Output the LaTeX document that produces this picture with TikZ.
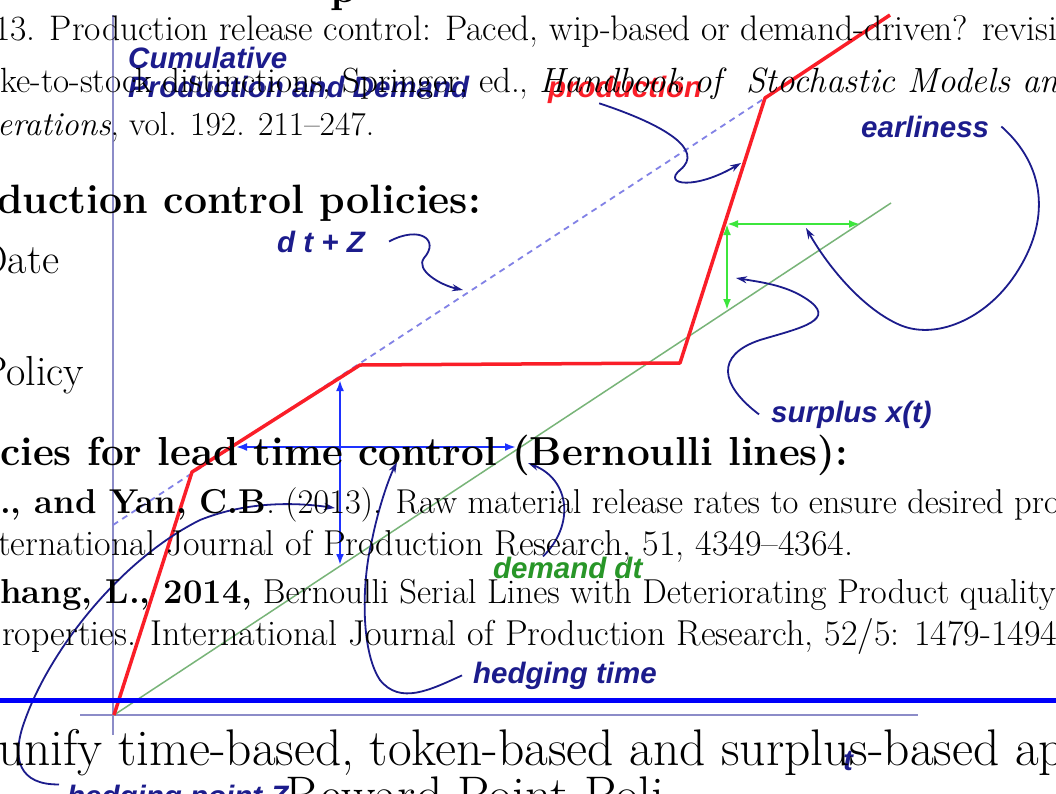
\documentclass[tikz,border=0pt]{standalone}
\usepackage{fontspec}
\usetikzlibrary{arrows.meta}
\newfontfamily\lblfont{Liberation Sans}
\definecolor{navy}{RGB}{28,28,140}
\definecolor{axisblue}{RGB}{140,140,200}
\definecolor{prodred}{RGB}{250,30,40}
\definecolor{demgreen}{RGB}{120,180,120}
\definecolor{surpgreen}{RGB}{60,230,60}
\definecolor{hedgeblue}{RGB}{30,50,255}
\definecolor{dashblue}{RGB}{130,130,230}
\definecolor{lblgreen}{RGB}{40,150,40}
\definecolor{rulebl}{RGB}{0,0,250}
\begin{document}
\begin{tikzpicture}[x=1pt,y=-1pt,
	lbl/.style={font=\lblfont\bfseries\itshape\fontsize{29.5}{29}\selectfont, text=navy, inner sep=0pt, anchor=base west},
	txt/.style={font=\fontsize{35}{40}\selectfont, inner sep=0pt, anchor=base west},
	big/.style={font=\fontsize{42}{50}\selectfont, inner sep=0pt, anchor=base west},
	note/.style={navy, line width=1.8pt, -{Stealth[length=11pt,width=7pt]}},
	hedge/.style={hedgeblue, line width=2.8pt, {Latex[length=11pt,width=8pt]}-{Latex[length=11pt,width=8pt]}},
	surp/.style={surpgreen, line width=2.5pt, {Latex[length=11pt,width=8pt]}-{Latex[length=11pt,width=8pt]}}]
	\useasboundingbox (0,0) rectangle (1056,793);
	\clip (0,0) rectangle (1056,793);
	\fill[white] (0,0) rectangle (1056,793);

	% axes
	\coordinate (O) at (114,715);
	\draw [axisblue, line width=2pt] (113,15) -- (113,735);
	\draw [axisblue, line width=2pt] (80,715) -- (918,715);

	% demand, demand plus Z, cumulative production
	\draw [demgreen, line width=1.5pt] (O) -- (891,203);
	\draw [dashblue, line width=1.8pt, dash pattern=on 6pt off 5pt] (113,525) -- (765,98);
	\draw [prodred, line width=3.5pt, line join=round]
		(O) -- (192,472) -- (360,365) -- (680,363) -- (765,98) -- (890,15);

	% hedging and surplus
	\draw [hedge] (236,447) -- (516,447);
	\draw [hedge] (340,380) -- (340,565);
	\draw [surp] (727,224) -- (860,224);
	\draw [surp] (727,224) -- (727,310);

	% labels
	\node [lbl, align=left, anchor=north west] (cumlbl) at (128,47) {Cumulative\\Production and Demand};
	\node [lbl, text=prodred] (prodlbl) at (548,97) {production};
	\node [lbl] (dzlbl) at (277,252) {d t + Z};
	\node [lbl] (earlbl) at (861,137) {earliness};
	\node [lbl] (surlbl) at (771,422) {surplus x(t)};
	\node [lbl, text=lblgreen] (demlbl) at (493,578) {demand dt};
	\node [lbl] (htlbl) at (473,683) {hedging time};
	\node [lbl] (hplbl) at (67,806) {hedging point Z};
	\node [lbl] (tlbl) at (843,770) {t};

	% pointers
	\draw [note] ([xshift=-26pt]prodlbl.south) .. controls (665,125) and (705,150) .. (680,170)
		.. controls (662,185) and (695,190) .. (741,163);
	\draw [note] ([xshift=24pt]dzlbl.east) .. controls (420,225) and (440,240) .. (424,258)
		.. controls (415,270) and (440,285) .. (463,290);
	\draw [note] ([xshift=12pt]earlbl.east) .. controls (1045,165) and (1052,220) .. (1015,275)
		.. controls (985,320) and (935,340) .. (900,325)
		.. controls (865,310) and (830,270) .. (806,228);
	\draw [note] ([xshift=-12pt]surlbl.west) .. controls (720,385) and (715,355) .. (760,340)
		.. controls (800,328) and (840,320) .. (805,298)
		.. controls (785,285) and (760,282) .. (736,278);
	\draw [note] ([xshift=50pt]demlbl.north west) .. controls (575,525) and (570,480) .. (528,463);
	\draw [note] ([xshift=-11pt]htlbl.west) .. controls (430,690) and (400,705) .. (380,680)
		.. controls (360,650) and (362,580) .. (372,540)
		.. controls (378,510) and (388,480) .. (397,462);
	\draw [note] ([xshift=-8pt]hplbl.north west) .. controls (20,785) and (10,760) .. (25,720)
		.. controls (50,650) and (120,560) .. (200,520)
		.. controls (250,500) and (300,503) .. (335,508);

	% slide text
	\node [big, font=\bfseries\fontsize{42}{50}\selectfont] (ttl) at (330,2) {p};
	\node [txt, font=\fontsize{35.5}{40}\selectfont] (ln1) at (-6,40) {13. Production release control: Paced, wip-based or demand-driven? revisi};
	\node [txt] (ln2) at (0,92) {ke-to-stock distinctions, Springer, ed., \textit{Handbook of\ \ Stochastic Models and An}};
	\node [txt, font=\fontsize{33.5}{40}\selectfont] (ln3) at (-3,135) {\textit{erations}, vol. 192. 211--247.};
	\node [big, font=\bfseries\fontsize{41}{48}\selectfont] (hd1) at (-3,213) {duction control policies:};
	\node [big] (date) at (-22,273) {Date};
	\node [big] (policy) at (-19,385) {Policy};
	\node [big, font=\bfseries\fontsize{40.5}{46}\selectfont] (hd2) at (0,465) {cies for lead time control (Bernoulli lines):};
	\node [txt, font=\fontsize{34.5}{40}\selectfont] (rf1) at (0,513) {\textbf{., and Yan, C.B}. (2013). Raw material release rates to ensure desired pro};
	\node [txt, font=\fontsize{36}{40}\selectfont] (rf2) at (-2,555) {ternational Journal of Production Research, 51, 4349--4364.};
	\node [txt, font=\fontsize{34.6}{40}\selectfont] (rf3) at (0,603) {\textbf{hang, L., 2014,} Bernoulli Serial Lines with Deteriorating Product quality:};
	\node [txt, font=\fontsize{36}{40}\selectfont] (rf4) at (2,645) {roperties. International Journal of Production Research, 52/5: 1479-1494};
	\node [big, font=\fontsize{51.5}{60}\selectfont] (unify) at (-2,765) {unify time-based, token-based and surplus-based ap};
	\node [big, font=\fontsize{51.5}{60}\selectfont] (rwd) at (285,812) {Reward Point Poli};

	\draw [rulebl, line width=5pt] (0,700) -- (1056,700);
\end{tikzpicture}
\end{document}
